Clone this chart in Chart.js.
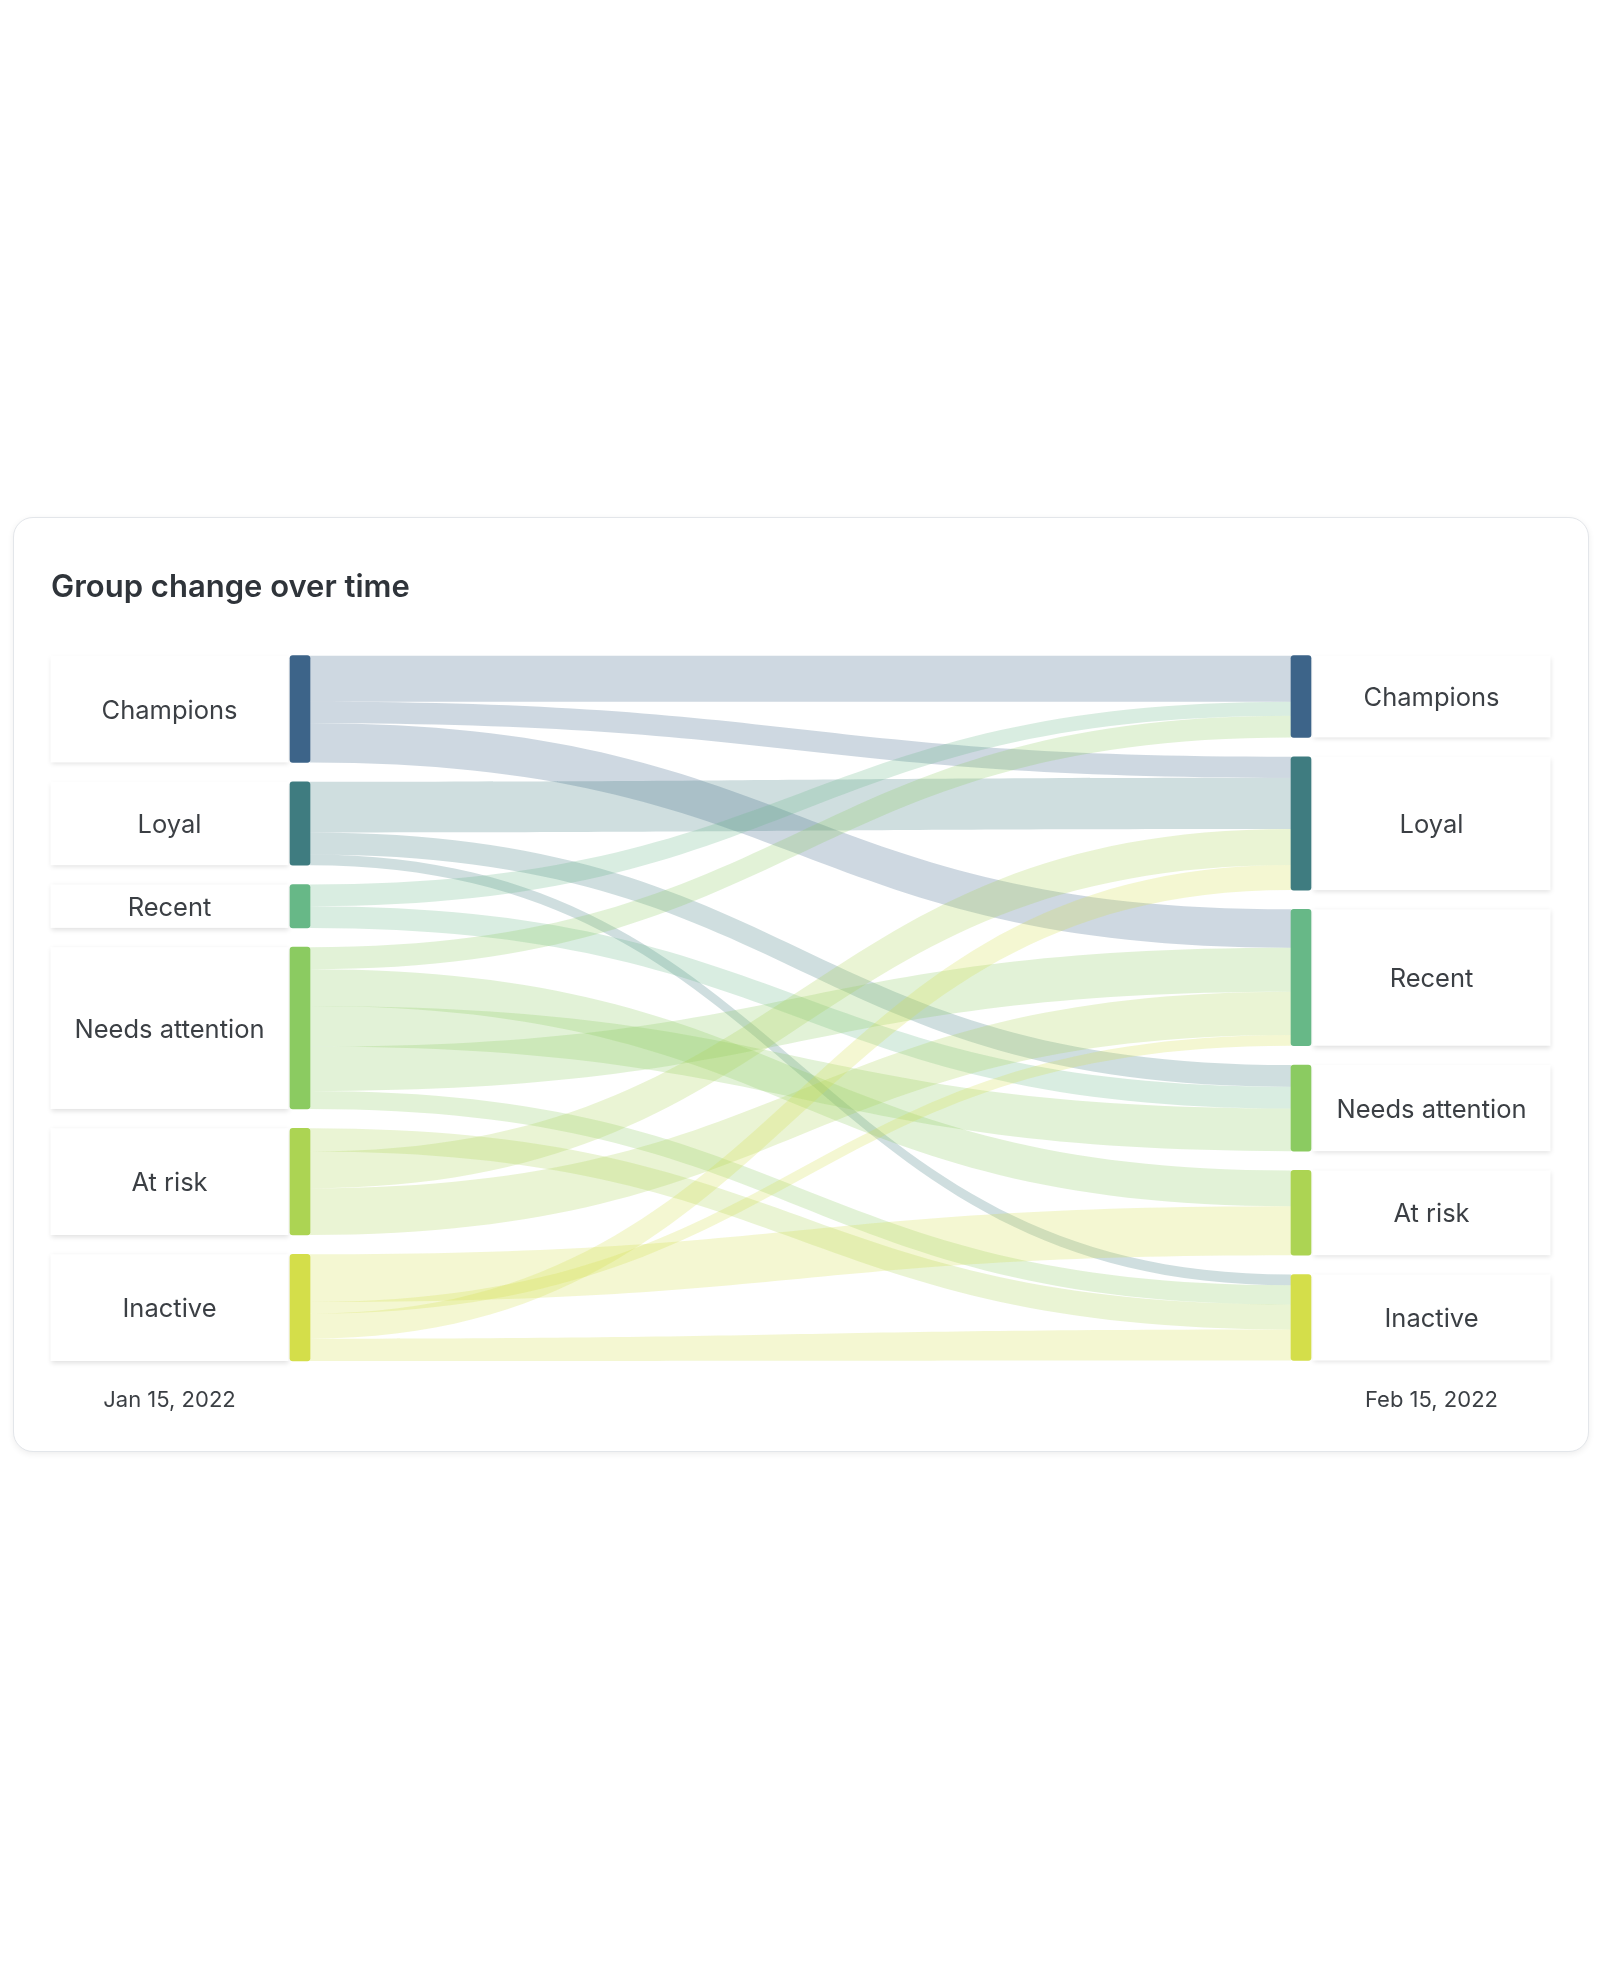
<!DOCTYPE html>
<html>
<head>
<meta charset="utf-8">
<script src="https://cdn.jsdelivr.net/npm/chart.js@4.4.1/dist/chart.umd.min.js"></script>
<style>
  html, body { margin: 0; padding: 0; background: #ffffff; }
  body { width: 1600px; height: 1969px; position: relative; overflow: hidden; font-family: Inter, "Noto Sans", sans-serif; }
  .card { position: absolute; left: 13px; top: 517px; width: 1576px; height: 935px; box-sizing: border-box;
          border: 1.5px solid #e3e6ea; border-radius: 20px; background: #ffffff; box-shadow: 0 2px 6px rgba(0,0,0,0.07); }
  #wrap { position: absolute; left: 0; top: 0; width: 1600px; height: 1969px; }
</style>
</head>
<body>
<div class="card"></div>
<div id="wrap"><canvas id="c"></canvas></div>
<script>
// ---------- data ----------
const chartTitle = 'Group change over time';
const periodLabels = ['Jan 15, 2022', 'Feb 15, 2022'];
const nodeNames = ['Champions', 'Loyal', 'Recent', 'Needs attention', 'At risk', 'Inactive'];
const nodeColors = ['#3d6489', '#3f7c80', '#67b887', '#8bcb61', '#acd453', '#d4de4a'];
// flows (in source order as drawn on the left side)
const flowFrom  = [0, 0, 0, 1, 1, 1, 2, 2, 3, 3, 3, 3, 3, 4, 4, 4, 5, 5, 5, 5];
const flowTo    = [0, 1, 2, 1, 3, 5, 0, 3, 0, 4, 3, 2, 5, 5, 1, 2, 4, 2, 1, 5];
// customers leaving (Jan 15) and arriving (Feb 15) for each flow
const flowStartValue = [460, 215, 392, 507, 220, 107, 217, 217, 220, 367, 407, 443, 180, 233, 367, 467, 477, 117, 250, 223];
const flowEndValue   = [460, 210, 383, 513, 217, 107, 140, 217, 217, 357, 427, 440, 193, 250, 360, 433, 490, 107, 250, 310];

// ---------- layout constants ----------
const NODE_GAP = 193;      // gap between nodes, in value units
const BAR_W = 20;
const BOX_W = 238;
const BOX_GAP = 1.5;

// ---------- derived ----------
const n = nodeNames.length;
const leftTotals = nodeNames.map((_, i) => flowFrom.reduce((s, f, k) => s + (f === i ? flowStartValue[k] : 0), 0));
const rightTotals = nodeNames.map((_, j) => flowTo.reduce((s, t, k) => s + (t === j ? flowEndValue[k] : 0), 0));
function stackRanges(totals) {
  let acc = 0; const r = [];
  totals.forEach((v, i) => { r.push([acc, acc + v]); acc += v + NODE_GAP; });
  return r;
}
const leftRanges = stackRanges(leftTotals);
const rightRanges = stackRanges(rightTotals);
const yMax = Math.max(leftRanges[n - 1][1], rightRanges[n - 1][1]);

// flow offsets
const flowStartPos = [], flowEndPos = [];
const leftCursor = leftRanges.map(r => r[0]);
flowFrom.forEach((f, k) => { flowStartPos[k] = leftCursor[f]; leftCursor[f] += flowStartValue[k]; });
const rightCursor = rightRanges.map(r => r[0]);
const order = flowFrom.map((_, k) => k).sort((a, b) => flowFrom[a] - flowFrom[b] || a - b);
order.forEach(k => { const t = flowTo[k]; flowEndPos[k] = rightCursor[t]; rightCursor[t] += flowEndValue[k]; });

function rgba(hex, a) {
  const v = parseInt(hex.slice(1), 16);
  return `rgba(${(v >> 16) & 255},${(v >> 8) & 255},${v & 255},${a})`;
}

const datasets = nodeNames.map((name, i) => ({
  label: name,
  data: [leftRanges[i], rightRanges[i]],
  backgroundColor: nodeColors[i],
  borderWidth: 0,
  borderRadius: 3,
  borderSkipped: false,
  barThickness: BAR_W,
  grouped: false,
  clip: false
}));

const TEXT = '#3b3f44';
const FONT = 'Inter, "Noto Sans", sans-serif';

const sankeyPlugin = {
  id: 'sankeyParts',
  beforeDatasetsDraw(chart) {
    const ctx = chart.ctx, xs = chart.scales.x, ys = chart.scales.y;
    const xl = xs.getPixelForValue(0) + BAR_W / 2;
    const xr = xs.getPixelForValue(1) - BAR_W / 2;
    const xm = (xl + xr) / 2;
    ctx.save();
    // title
    ctx.fillStyle = '#2f343a';
    ctx.font = '600 31px ' + FONT;
    ctx.textAlign = 'left';
    ctx.textBaseline = 'alphabetic';
    ctx.fillText(chartTitle, 51, 597);
    // flows
    flowFrom.forEach((f, k) => {
      const a0 = ys.getPixelForValue(flowStartPos[k]);
      const a1 = ys.getPixelForValue(flowStartPos[k] + flowStartValue[k]);
      const b0 = ys.getPixelForValue(flowEndPos[k]);
      const b1 = ys.getPixelForValue(flowEndPos[k] + flowEndValue[k]);
      ctx.beginPath();
      ctx.moveTo(xl, a0);
      ctx.bezierCurveTo(xm, a0, xm, b0, xr, b0);
      ctx.lineTo(xr, b1);
      ctx.bezierCurveTo(xm, b1, xm, a1, xl, a1);
      ctx.closePath();
      ctx.fillStyle = rgba(nodeColors[f], 0.25);
      ctx.fill();
    });
    // label boxes
    const lx = xs.getPixelForValue(0) - BAR_W / 2 - BOX_GAP - BOX_W;
    const rx = xs.getPixelForValue(1) + BAR_W / 2 + BOX_GAP;
    const drawBoxes = (ranges, x) => {
      ranges.forEach((r, i) => {
        const t = ys.getPixelForValue(r[0]), b = ys.getPixelForValue(r[1]);
        ctx.save();
        ctx.shadowColor = 'rgba(0,0,0,0.13)';
        ctx.shadowBlur = 5;
        ctx.shadowOffsetY = 2;
        ctx.fillStyle = '#ffffff';
        ctx.fillRect(x, t, BOX_W, b - t);
        ctx.restore();
        ctx.fillStyle = TEXT;
        ctx.font = '400 25.5px ' + FONT;
        ctx.textAlign = 'center';
        ctx.textBaseline = 'middle';
        ctx.fillText(nodeNames[i], x + BOX_W / 2, (t + b) / 2 + 2);
      });
    };
    drawBoxes(leftRanges, lx);
    drawBoxes(rightRanges, rx);
    // period labels
    ctx.fillStyle = TEXT;
    ctx.font = '400 22px ' + FONT;
    ctx.textAlign = 'center';
    ctx.textBaseline = 'middle';
    const yb = ys.getPixelForValue(yMax) + 39.5;
    ctx.fillText(periodLabels[0], lx + BOX_W / 2, yb);
    ctx.fillText(periodLabels[1], rx + BOX_W / 2, yb);
    ctx.restore();
  }
};

new Chart(document.getElementById('c'), {
  type: 'bar',
  data: { labels: periodLabels, datasets },
  options: {
    responsive: true,
    maintainAspectRatio: false,
    animation: false,
    events: [],
    layout: { padding: { left: 300, right: 299, top: 655.7, bottom: 608 } },
    scales: {
      x: { type: 'category', offset: false, display: false },
      y: { type: 'linear', min: 0, max: yMax, reverse: true, display: false }
    },
    plugins: { legend: { display: false }, tooltip: { enabled: false }, title: { display: false } }
  },
  plugins: [sankeyPlugin]
});
</script>
</body>
</html>
